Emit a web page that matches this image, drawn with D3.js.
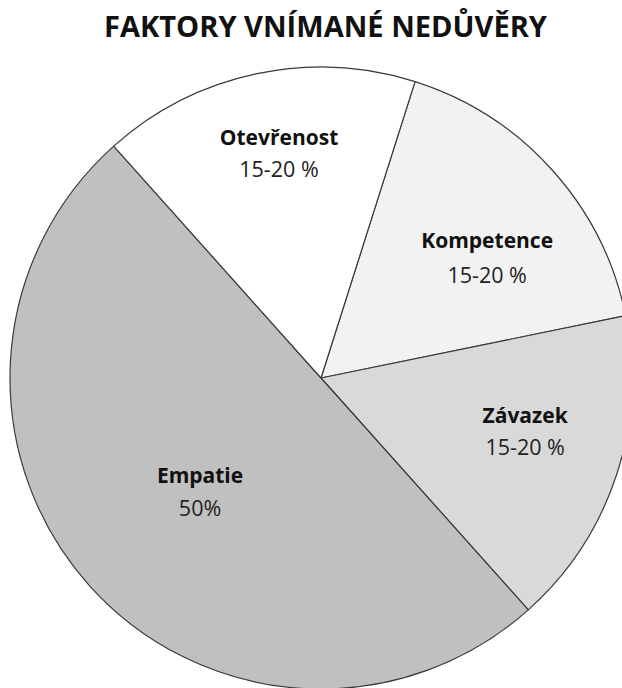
<!DOCTYPE html>
<html>
<head>
<meta charset="utf-8">
<script src="https://cdn.jsdelivr.net/npm/d3@7"></script>
<style>
  html, body { margin: 0; padding: 0; background: #fff; }
  svg { display: block; }
</style>
</head>
<body>
<svg id="chart" width="622" height="688"></svg>
<script>
// Slices listed clockwise, starting from the Kompetence boundary
const categories = ["Kompetence", "Závazek", "Empatie", "Otevřenost"];
const values = [16.9, 16.6, 50, 16.5];
const valueLabels = ["15-20 %", "15-20 %", "50%", "15-20 %"];
const fills = ["#f2f2f2", "#d9d9d9", "#c0c0c0", "#ffffff"];
const title = "FAKTORY VNÍMANÉ NEDŮVĚRY";

const W = 622, H = 688;
const cx = 321, cy = 378, R = 311;
const startDeg = 17.6;
const font = "'Open Sans', 'DejaVu Sans', sans-serif";

const svg = d3.select("#chart");

svg.append("text")
  .attr("x", 325.5).attr("y", 37)
  .attr("text-anchor", "middle")
  .attr("font-family", font)
  .attr("font-weight", 700)
  .attr("font-size", 29)
  .attr("fill", "#111")
  .attr("textLength", 443)
  .attr("lengthAdjust", "spacingAndGlyphs")
  .text(title);

const data = categories.map((c, i) => ({ name: c, value: values[i], label: valueLabels[i], fill: fills[i] }));

const start = startDeg * Math.PI / 180;
const pie = d3.pie().sort(null).value(d => d.value)
  .startAngle(start).endAngle(start + 2 * Math.PI);
const arcs = pie(data);

const arc = d3.arc().innerRadius(0).outerRadius(R);

const g = svg.append("g").attr("transform", `translate(${cx},${cy})`);

g.selectAll("path.slice")
  .data(arcs)
  .join("path")
  .attr("class", "slice")
  .attr("d", arc)
  .attr("fill", d => d.data.fill)
  .attr("stroke", "#3a3a3a")
  .attr("stroke-width", 1.2)
  .attr("stroke-linejoin", "round");

// label placement: radial distance (fraction of R) and angular nudge per slice
const labelLayout = {
  "Kompetence": { r: 0.645, da: 7.9, gap: 35 },
  "Závazek":    { r: 0.685, da: -1.7, gap: 32 },
  "Empatie":    { r: 0.551, da: -3.3, gap: 33 },
  "Otevřenost": { r: 0.711, da: 1.15, gap: 32 }
};

const labels = g.selectAll("g.lbl")
  .data(arcs)
  .join("g")
  .attr("class", "lbl")
  .attr("transform", d => {
    const L = labelLayout[d.data.name];
    const a = (d.startAngle + d.endAngle) / 2 + L.da * Math.PI / 180;
    const rr = L.r * R;
    return `translate(${rr * Math.sin(a)},${-rr * Math.cos(a)})`;
  });

labels.append("text")
  .attr("text-anchor", "middle")
  .attr("y", d => -labelLayout[d.data.name].gap / 2)
  .attr("font-family", font)
  .attr("font-weight", 700)
  .attr("font-size", 21)
  .attr("fill", "#111")
  .text(d => d.data.name);

labels.append("text")
  .attr("text-anchor", "middle")
  .attr("y", d => labelLayout[d.data.name].gap / 2)
  .attr("font-family", font)
  .attr("font-weight", 400)
  .attr("font-size", 21.5)
  .attr("fill", "#222")
  .text(d => d.data.label);
</script>
</body>
</html>
